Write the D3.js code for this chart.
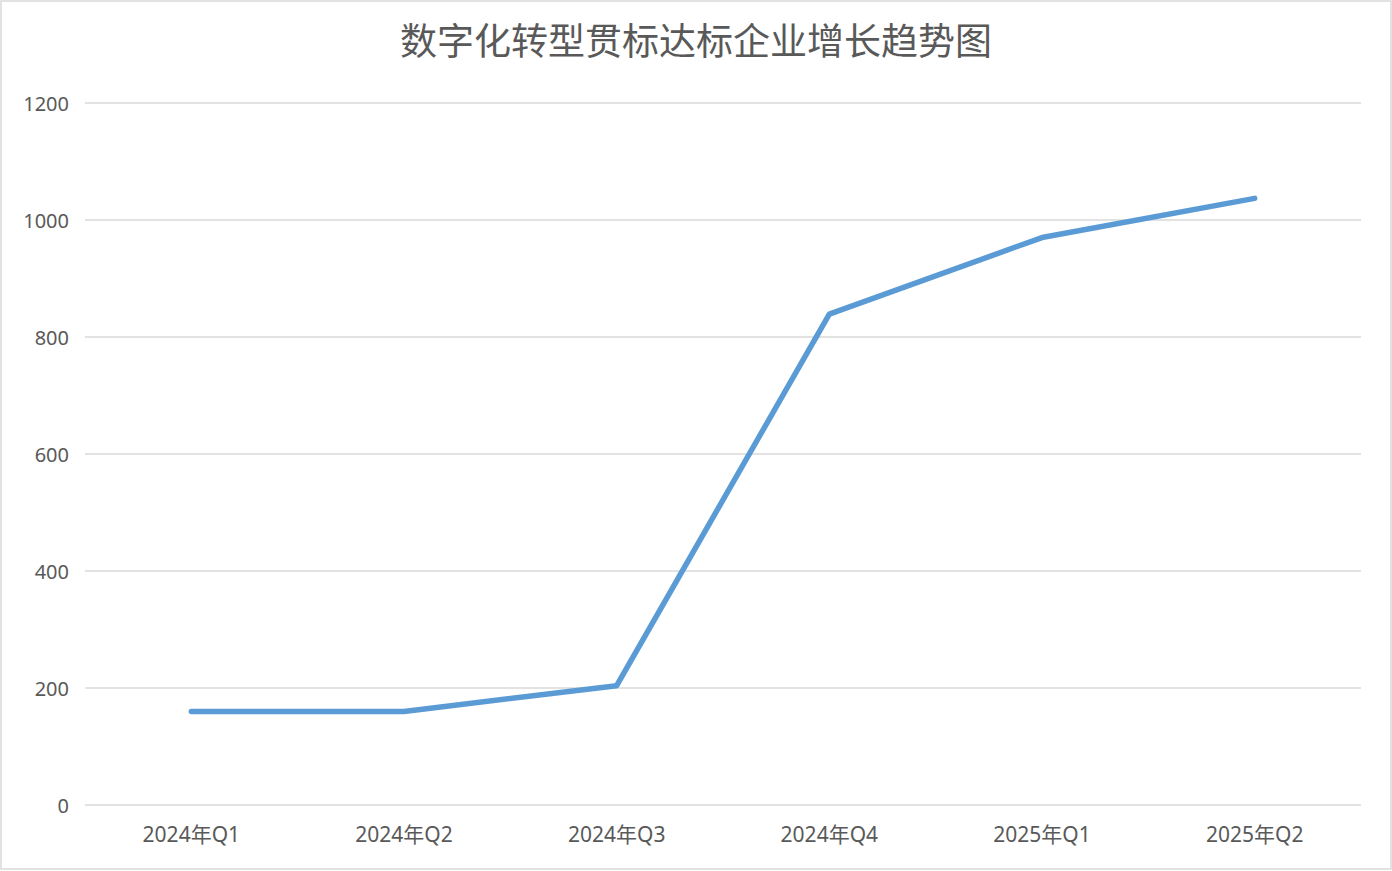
<!DOCTYPE html>
<html>
<head>
<meta charset="utf-8">
<script src="https://cdn.jsdelivr.net/npm/d3@7"></script>
<style>
  html, body { margin: 0; padding: 0; background: #fff; }
  svg { display: block; }
  text { font-family: "Noto Sans", "Noto Sans CJK SC", sans-serif; fill: #595959; }
</style>
</head>
<body>
<svg id="chart" width="1392" height="871"></svg>
<script>
// 数据
const categories = ["2024年Q1", "2024年Q2", "2024年Q3", "2024年Q4", "2025年Q1", "2025年Q2"];
const values = [160, 160, 204, 839, 970, 1037];
const yTicks = [0, 200, 400, 600, 800, 1000, 1200];
const title = "数字化转型贯标达标企业增长趋势图";

const W = 1392, H = 871;
const margin = { top: 103, right: 31, bottom: 66, left: 85 };
const labelFont = '"Noto Sans", "Noto Sans CJK SC", sans-serif';

const svg = d3.select("#chart");

// 外框
svg.append("rect")
  .attr("x", 1).attr("y", 1)
  .attr("width", W - 2).attr("height", H - 3)
  .attr("fill", "#fff")
  .attr("stroke", "#d9d9d9")
  .attr("stroke-width", 1.5);

const x = d3.scaleBand()
  .domain(categories)
  .range([margin.left, W - margin.right]);

const y = d3.scaleLinear()
  .domain([0, 1200])
  .range([H - margin.bottom, margin.top]);

// 网格线
svg.append("g")
  .selectAll("line")
  .data(yTicks)
  .join("line")
  .attr("x1", margin.left)
  .attr("x2", W - margin.right)
  .attr("y1", d => y(d))
  .attr("y2", d => y(d))
  .attr("stroke", "#d9d9d9")
  .attr("stroke-width", 1.5);

// Y 轴标签
const yAxis = d3.axisLeft(y).tickValues(yTicks).tickFormat(d3.format("d")).tickSize(0).tickPadding(16);
svg.append("g")
  .attr("transform", `translate(${margin.left},0)`)
  .call(yAxis)
  .call(g => g.select(".domain").remove())
  .selectAll("text")
  .attr("font-size", 20)
  .attr("dy", "0.35em")
  .style("fill", "#595959")
  .style("font-family", labelFont);

// X 轴标签
const xAxis = d3.axisBottom(x).tickSize(0).tickPadding(22);
svg.append("g")
  .attr("transform", `translate(0,${H - margin.bottom})`)
  .call(xAxis)
  .call(g => g.select(".domain").remove())
  .selectAll("text")
  .attr("font-size", 21)
  .style("fill", "#595959")
  .style("font-family", labelFont);

// 折线
const line = d3.line()
  .x((d, i) => x(categories[i]) + x.bandwidth() / 2)
  .y(d => y(d));

svg.append("path")
  .datum(values)
  .attr("d", line)
  .attr("fill", "none")
  .attr("stroke", "#5b9bd5")
  .attr("stroke-width", 5.5)
  .attr("stroke-linejoin", "round")
  .attr("stroke-linecap", "round");

// 标题
svg.append("text")
  .attr("x", W / 2)
  .attr("y", 55)
  .attr("text-anchor", "middle")
  .attr("font-size", 37)
  .style("font-family", '"Noto Sans CJK SC", sans-serif')
  .text(title);
</script>
</body>
</html>
